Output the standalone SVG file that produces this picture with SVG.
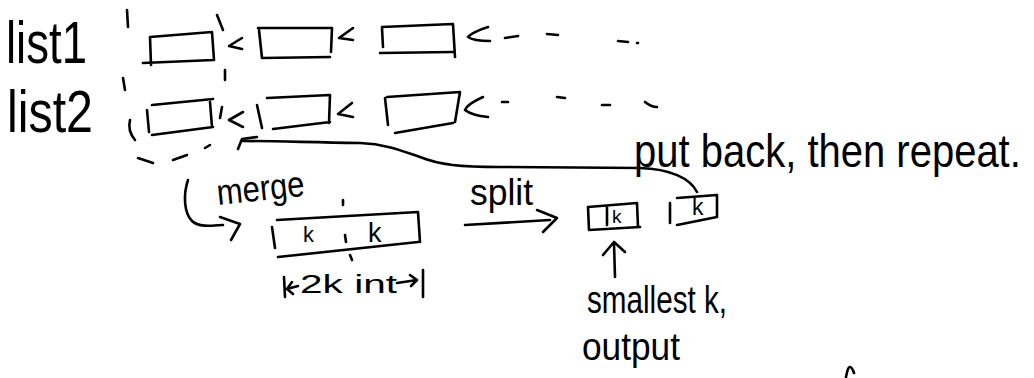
<svg xmlns="http://www.w3.org/2000/svg" width="1034" height="378" viewBox="0 0 1034 378">
<style>
  .s{fill:none;stroke:#000;stroke-width:2.6;stroke-linecap:round;stroke-linejoin:round}
  .t{font-family:"Liberation Sans","DejaVu Sans",sans-serif;fill:#000}
</style>
<rect width="1034" height="378" fill="#fff"/>
<g id="label-list1"><text class="t" x="6" y="63" font-size="60" textLength="81" lengthAdjust="spacingAndGlyphs">list1</text></g>
<g id="label-list2"><text class="t" x="7" y="132" font-size="60" textLength="86" lengthAdjust="spacingAndGlyphs">list2</text></g>
<g id="list1-box1"><path class="s" d="M150,37 L212,32 L214,60 M143,63 L213,60 M150,37 L151,65"/></g>
<g id="list1-box2"><path class="s" d="M258,28 L332,28 L331,52 M259,30 L262,58 L330,57"/></g>
<g id="list1-box3"><path class="s" d="M382,27 L453,24 L455,57 M380,53 L453,52 M382,28 L383,47"/></g>
<g id="list2-box1"><path class="s" d="M152,105 L213,99 M210,102 L212,127 M152,135 L213,127 M147,110 L149,132"/></g>
<g id="list2-box2"><path class="s" d="M267,98 L330,95 L329,123 M273,129 L330,122 M257,105 L262,128"/></g>
<g id="list2-box3"><path class="s" d="M387,97 L460,92 L455,122 M395,133 L453,123 M385,98 L388,125"/></g>
<g id="merge-group">
  <path class="s" d="M127,10 L128,27 M217,15 L223,30 M225,70 L225,80 M123,78 L125,90 M222,107 L220,118 M130,120 C128,128 130,134 135,140 M138,158 L153,163 M173,160 L187,155 M205,148 L210,145"/>
</g>
<g id="label-merge"><text class="t" x="218" y="205" font-size="36" textLength="88" lengthAdjust="spacingAndGlyphs" transform="rotate(-6 218 205)">merge</text></g>
<g id="merged-box">
  <path class="s" d="M277,220 L418,212 L420,242 M278,257 L418,242 M272,227 L275,248"/>
  <path class="s" d="M343,200 L343,205 M345,235 L346,242 M350,255 L352,260"/>
  <text class="t" x="303" y="242" font-size="22">k</text>
  <text class="t" x="368" y="242" font-size="27">k</text>
</g>
<g id="label-2k">
  <path class="s" d="M284,277 L285,297 M298,286 L287,289 M292,282 L287,289 L293,294 M397,283 L417,280 M410,275 L417,280 L411,286 M423,270 L423,297"/>
  <text class="t" x="300" y="293" font-size="26" textLength="97" lengthAdjust="spacingAndGlyphs">2k int</text>
</g>
<g id="label-split"><text class="t" x="470" y="205" font-size="36" textLength="63" lengthAdjust="spacingAndGlyphs">split</text></g>
<g id="small-box1">
  <path class="s" d="M588,207 L637,203 L638,227 M589,230 L640,227 M588,207 L589,230 M607,207 L607,225"/>
  <text class="t" x="612" y="223" font-size="19">k</text>
</g>
<g id="small-box2">
  <path class="s" d="M670,203 L670,223 M677,198 L717,195 L717,217 M677,225 L717,217"/>
  <text class="t" x="692" y="215" font-size="23">k</text>
</g>
<g id="label-putback"><text class="t" x="0" y="0" font-size="40" transform="translate(634 167) scale(1 1.15)">put back, then repeat.</text></g>
<g id="label-smallest"><text class="t" x="587" y="313" font-size="38" textLength="140" lengthAdjust="spacingAndGlyphs">smallest k,</text></g>
<g id="label-output"><text class="t" x="582" y="360" font-size="38" textLength="98" lengthAdjust="spacingAndGlyphs">output</text></g>
<g id="connectors">
  <path class="s" d="M242,38 L229,46 L242,49"/>
  <path class="s" d="M353,28 L339,38 L353,40"/>
  <path class="s" d="M488,27 C478,30 469,35 468,37 C472,40 480,41 490,41 M505,38 L518,36 M547,34 L558,35 M618,41 L628,42 M637,43 L638,43"/>
  <path class="s" d="M243,112 L229,120 L243,127"/>
  <path class="s" d="M352,103 L338,114 L353,117"/>
  <path class="s" d="M483,97 C472,102 466,107 465,110 C470,114 478,116 488,117 M502,102 L508,102 M557,97 L565,98 M602,105 L610,105 M645,102 C650,106 653,107 657,107"/>
  <path class="s" d="M243,141 C270,141 300,142 360,143 C385,144 400,150 420,157 C440,165 460,167 500,167 L640,168 C670,169 690,178 697,192"/>
  <path class="s" d="M257,137 L242,139 L238,149"/>
  <path class="s" d="M188,180 C183,195 184,213 192,221 C198,227 210,226 223,225"/>
  <path class="s" d="M220,217 L240,224 L231,240"/>
  <path class="s" d="M465,225 L550,220"/>
  <path class="s" d="M537,210 L557,218 L543,232"/>
  <path class="s" d="M615,277 L614,243"/>
  <path class="s" d="M603,255 L614,242 L625,252"/>
  <path class="s" d="M846,377 C847,372 848,367 850,367 C852,367 853,370 854,373"/>
</g>
</svg>
